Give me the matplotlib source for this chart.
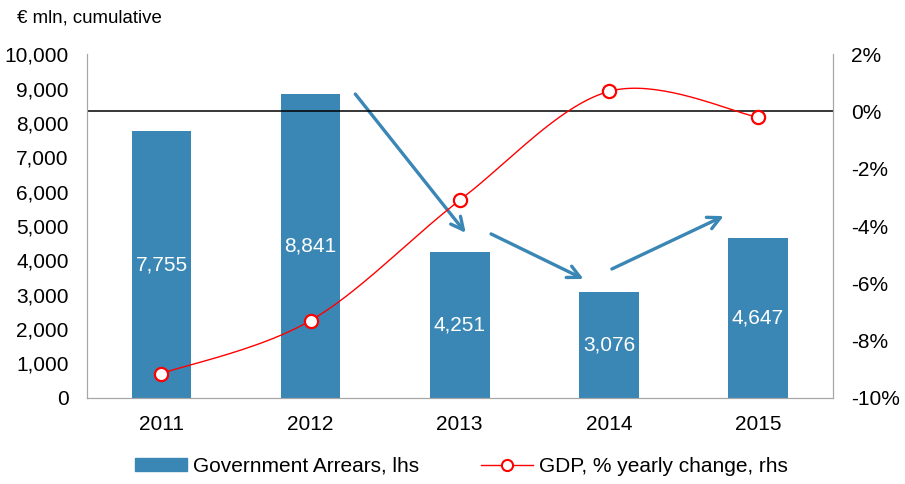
import numpy as np
import matplotlib
matplotlib.use("Agg")
import matplotlib.pyplot as plt
from matplotlib.lines import Line2D
from matplotlib.patches import Patch

years = ["2011", "2012", "2013", "2014", "2015"]
arrears = [7755, 8841, 4251, 3076, 4647]
gdp = [-9.15, -7.3, -3.1, 0.7, -0.2]

left_ticks = list(range(0, 10001, 1000))
right_ticks = list(range(-10, 3, 2))

# arrow annotations (x in category units, y on the left axis)
arrows = [((1.30, 8840), (2.04, 4800)),
          ((2.21, 4770), (2.83, 3460)),
          ((3.02, 3750), (3.77, 5290))]

bar_color = "#3A87B5"
line_color = "#FF0000"
spine_color = "#A6A6A6"

plt.rcParams["font.family"] = ["Liberation Sans", "DejaVu Sans"]


def smooth(xs, ys, n=40):
    # Catmull-Rom style smoothing similar to a spreadsheet "smoothed line"
    pts = np.column_stack([xs, ys]).astype(float)
    p = np.vstack([pts[0], pts, pts[-1]])
    out = []
    for i in range(1, len(p) - 2):
        p0, p1, p2, p3 = p[i - 1], p[i], p[i + 1], p[i + 2]
        c1 = p1 + (p2 - p0) / 6
        c2 = p2 - (p3 - p1) / 6
        t = np.linspace(0, 1, n)[:, None]
        seg = ((1 - t) ** 3) * p1 + 3 * ((1 - t) ** 2) * t * c1 + 3 * (1 - t) * t ** 2 * c2 + t ** 3 * p2
        out.append(seg if i == 1 else seg[1:])
    out = np.vstack(out)
    return out[:, 0], out[:, 1]


fig = plt.figure(figsize=(9.05, 4.84), dpi=100)
ax = fig.add_axes([0.096, 0.178, 0.824, 0.71])
x = np.arange(len(years))

ax.bar(x, arrears, width=0.40, color=bar_color, zorder=2)
for xi, v in zip(x, arrears):
    ax.text(xi, v / 2, f"{v:,}", ha="center", va="center", color="white", fontsize=15, zorder=3)

ax.set_xlim(-0.5, len(years) - 0.5)
ax.set_ylim(0, 10000)
ax.set_yticks(left_ticks)
ax.set_yticklabels([f"{t:,}" for t in left_ticks], fontsize=15)
ax.set_xticks(x)
ax.set_xticklabels(years, fontsize=15)
ax.tick_params(axis="both", length=0)
ax.tick_params(axis="y", pad=13)
ax.tick_params(axis="x", pad=12)
ax.spines["top"].set_visible(False)
for s in ("left", "right", "bottom"):
    ax.spines[s].set_color(spine_color)

for (x0, y0), (x1, y1) in arrows:
    ax.annotate("", xy=(x1, y1), xytext=(x0, y0),
                arrowprops=dict(arrowstyle="->,head_length=0.9,head_width=0.45",
                                color=bar_color, lw=2.4, shrinkA=0, shrinkB=0),
                zorder=4)

ax2 = ax.twinx()
ax2.set_ylim(-10, 2)
ax2.set_yticks(right_ticks)
ax2.set_yticklabels([f"{t}%" for t in right_ticks], fontsize=15)
ax2.tick_params(axis="y", length=0, pad=13)
ax2.spines["top"].set_visible(False)
for s in ("left", "right", "bottom"):
    ax2.spines[s].set_color(spine_color)

ax2.axhline(0, color="black", lw=1.1, zorder=1)
sx, sy = smooth(x, gdp)
ax2.plot(sx, sy, color=line_color, lw=1.0, zorder=5)
ax2.plot(x, gdp, "o", color=line_color, markerfacecolor="white", markersize=9.5,
         markeredgewidth=1.6, zorder=6)

fig.text(0.019, 0.962, "€ mln, cumulative", fontsize=13.4, va="center", ha="left")

handles = [Patch(facecolor=bar_color, edgecolor=bar_color),
           Line2D([0], [0], color=line_color, lw=1.0, marker="o", markerfacecolor="white",
                  markersize=8, markeredgewidth=1.5)]
fig.legend(handles, ["Government Arrears, lhs", "GDP, % yearly change, rhs"],
           loc="center", bbox_to_anchor=(0.51, 0.037), ncol=2, frameon=False,
           prop={"size": 15}, handlelength=2.5, handleheight=0.58,
           columnspacing=2.95, handletextpad=0.29)

fig.savefig("out.png", dpi=100)
